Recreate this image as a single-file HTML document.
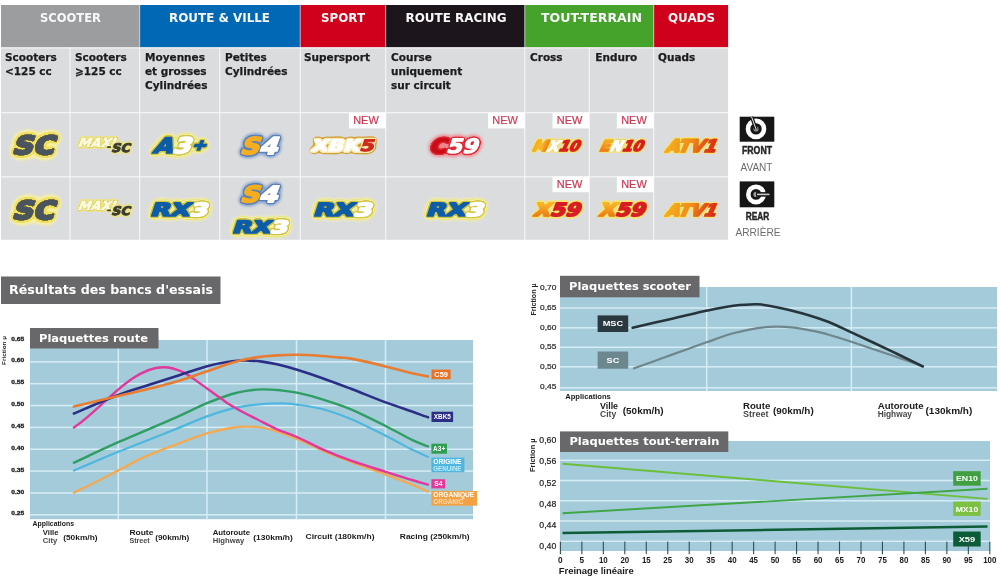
<!DOCTYPE html>
<html lang="fr"><head><meta charset="utf-8"><title>Plaquettes</title>
<style>
html,body{margin:0;padding:0;background:#fff;}
body{width:1000px;height:577px;overflow:hidden;}
svg{display:block;}
</style></head><body>
<svg width="1000" height="577" viewBox="0 0 1000 577">
<rect width="1000" height="577" fill="#fff"/>
<filter id="gb" x="0" y="0" width="100%" height="100%" filterUnits="objectBoundingBox"><feGaussianBlur stdDeviation="0.65"/></filter>
<g filter="url(#gb)">
<rect width="1000" height="577" fill="#fff"/>
<rect x="1" y="5" width="138.7" height="42.6" fill="#9c9d9f" />
<rect x="139.7" y="5" width="160.5" height="42.6" fill="#0068b4" />
<rect x="300.2" y="5" width="85.5" height="42.6" fill="#d0021b" />
<rect x="385.7" y="5" width="139.1" height="42.6" fill="#1b181c" />
<rect x="524.8" y="5" width="128.9" height="42.6" fill="#44a22c" />
<rect x="653.7" y="5" width="74.4" height="42.6" fill="#d0021b" />
<rect x="1" y="47.5" width="727.1" height="192.3" fill="#dbdcde" />
<rect x="69.45" y="47.5" width="1.1" height="192.3" fill="#f7f7f9" />
<rect x="139.15" y="47.5" width="1.1" height="192.3" fill="#f7f7f9" />
<rect x="219.25" y="47.5" width="1.1" height="192.3" fill="#f7f7f9" />
<rect x="299.65" y="47.5" width="1.1" height="192.3" fill="#f7f7f9" />
<rect x="385.15" y="47.5" width="1.1" height="192.3" fill="#f7f7f9" />
<rect x="524.25" y="47.5" width="1.1" height="192.3" fill="#f7f7f9" />
<rect x="588.75" y="47.5" width="1.1" height="192.3" fill="#f7f7f9" />
<rect x="653.15" y="47.5" width="1.1" height="192.3" fill="#f7f7f9" />
<rect x="139.2" y="5" width="1" height="42.5" fill="#ffffff" opacity="0.55"/>
<rect x="299.7" y="5" width="1" height="42.5" fill="#ffffff" opacity="0.55"/>
<rect x="385.2" y="5" width="1" height="42.5" fill="#ffffff" opacity="0.55"/>
<rect x="524.3" y="5" width="1" height="42.5" fill="#ffffff" opacity="0.55"/>
<rect x="653.2" y="5" width="1" height="42.5" fill="#ffffff" opacity="0.55"/>
<rect x="1" y="112.15" width="727.1" height="1.1" fill="#f7f7f9" />
<rect x="1" y="176.35" width="727.1" height="1.1" fill="#f7f7f9" />
<rect x="1" y="47.4" width="727.1" height="1.1" fill="#f4f4f6" />
<text x="70.5" y="22.1" font-family="'DejaVu Sans', 'Liberation Sans', sans-serif" font-size="11.9" font-weight="bold" fill="#f8f8f8" text-anchor="middle" textLength="61" lengthAdjust="spacingAndGlyphs" >SCOOTER</text>
<text x="219.5" y="22.1" font-family="'DejaVu Sans', 'Liberation Sans', sans-serif" font-size="11.9" font-weight="bold" fill="#f8f8f8" text-anchor="middle" textLength="101" lengthAdjust="spacingAndGlyphs" >ROUTE &amp; VILLE</text>
<text x="343" y="22.1" font-family="'DejaVu Sans', 'Liberation Sans', sans-serif" font-size="11.9" font-weight="bold" fill="#f8f8f8" text-anchor="middle" textLength="44" lengthAdjust="spacingAndGlyphs" >SPORT</text>
<text x="456" y="22.1" font-family="'DejaVu Sans', 'Liberation Sans', sans-serif" font-size="11.9" font-weight="bold" fill="#f8f8f8" text-anchor="middle" textLength="101" lengthAdjust="spacingAndGlyphs" >ROUTE RACING</text>
<text x="591.5" y="22.1" font-family="'DejaVu Sans', 'Liberation Sans', sans-serif" font-size="11.9" font-weight="bold" fill="#f8f8f8" text-anchor="middle" textLength="101" lengthAdjust="spacingAndGlyphs" >TOUT-TERRAIN</text>
<text x="691.5" y="22.1" font-family="'DejaVu Sans', 'Liberation Sans', sans-serif" font-size="11.9" font-weight="bold" fill="#f8f8f8" text-anchor="middle" textLength="47" lengthAdjust="spacingAndGlyphs" >QUADS</text>
<text x="5" y="60.7" font-family="'DejaVu Sans', 'Liberation Sans', sans-serif" font-size="10.5" font-weight="bold" fill="#1d1d1f" text-anchor="start" stroke="#1d1d1f" stroke-width="0.25">Scooters</text>
<text x="5" y="74.7" font-family="'DejaVu Sans', 'Liberation Sans', sans-serif" font-size="10.5" font-weight="bold" fill="#1d1d1f" text-anchor="start" stroke="#1d1d1f" stroke-width="0.25">&lt;125 cc</text>
<text x="75" y="60.7" font-family="'DejaVu Sans', 'Liberation Sans', sans-serif" font-size="10.5" font-weight="bold" fill="#1d1d1f" text-anchor="start" stroke="#1d1d1f" stroke-width="0.25">Scooters</text>
<text x="75" y="74.7" font-family="'DejaVu Sans', 'Liberation Sans', sans-serif" font-size="10.5" font-weight="bold" fill="#1d1d1f" text-anchor="start" stroke="#1d1d1f" stroke-width="0.25">⩾125 cc</text>
<text x="145" y="60.7" font-family="'DejaVu Sans', 'Liberation Sans', sans-serif" font-size="10.5" font-weight="bold" fill="#1d1d1f" text-anchor="start" stroke="#1d1d1f" stroke-width="0.25">Moyennes</text>
<text x="145" y="74.7" font-family="'DejaVu Sans', 'Liberation Sans', sans-serif" font-size="10.5" font-weight="bold" fill="#1d1d1f" text-anchor="start" stroke="#1d1d1f" stroke-width="0.25">et grosses</text>
<text x="145" y="88.7" font-family="'DejaVu Sans', 'Liberation Sans', sans-serif" font-size="10.5" font-weight="bold" fill="#1d1d1f" text-anchor="start" stroke="#1d1d1f" stroke-width="0.25">Cylindrées</text>
<text x="225" y="60.7" font-family="'DejaVu Sans', 'Liberation Sans', sans-serif" font-size="10.5" font-weight="bold" fill="#1d1d1f" text-anchor="start" stroke="#1d1d1f" stroke-width="0.25">Petites</text>
<text x="225" y="74.7" font-family="'DejaVu Sans', 'Liberation Sans', sans-serif" font-size="10.5" font-weight="bold" fill="#1d1d1f" text-anchor="start" stroke="#1d1d1f" stroke-width="0.25">Cylindrées</text>
<text x="304" y="60.7" font-family="'DejaVu Sans', 'Liberation Sans', sans-serif" font-size="10.5" font-weight="bold" fill="#1d1d1f" text-anchor="start" stroke="#1d1d1f" stroke-width="0.25">Supersport</text>
<text x="391" y="60.7" font-family="'DejaVu Sans', 'Liberation Sans', sans-serif" font-size="10.5" font-weight="bold" fill="#1d1d1f" text-anchor="start" stroke="#1d1d1f" stroke-width="0.25">Course</text>
<text x="391" y="74.7" font-family="'DejaVu Sans', 'Liberation Sans', sans-serif" font-size="10.5" font-weight="bold" fill="#1d1d1f" text-anchor="start" stroke="#1d1d1f" stroke-width="0.25">uniquement</text>
<text x="391" y="88.7" font-family="'DejaVu Sans', 'Liberation Sans', sans-serif" font-size="10.5" font-weight="bold" fill="#1d1d1f" text-anchor="start" stroke="#1d1d1f" stroke-width="0.25">sur circuit</text>
<text x="530" y="60.7" font-family="'DejaVu Sans', 'Liberation Sans', sans-serif" font-size="10.5" font-weight="bold" fill="#1d1d1f" text-anchor="start" stroke="#1d1d1f" stroke-width="0.25">Cross</text>
<text x="595.3" y="60.7" font-family="'DejaVu Sans', 'Liberation Sans', sans-serif" font-size="10.5" font-weight="bold" fill="#1d1d1f" text-anchor="start" stroke="#1d1d1f" stroke-width="0.25">Enduro</text>
<text x="658" y="60.7" font-family="'DejaVu Sans', 'Liberation Sans', sans-serif" font-size="10.5" font-weight="bold" fill="#1d1d1f" text-anchor="start" stroke="#1d1d1f" stroke-width="0.25">Quads</text>
<rect x="348.9" y="112.5" width="36.8" height="15.9" fill="#fff" />
<text x="366" y="124.4" font-family="'Liberation Sans', 'DejaVu Sans', sans-serif" font-size="10.8" font-weight="normal" fill="#c93a55" text-anchor="middle" textLength="25.6" lengthAdjust="spacingAndGlyphs" stroke="#c93a55" stroke-width="0.2">NEW</text>
<rect x="488" y="112.5" width="36.8" height="15.9" fill="#fff" />
<text x="505.1" y="124.4" font-family="'Liberation Sans', 'DejaVu Sans', sans-serif" font-size="10.8" font-weight="normal" fill="#c93a55" text-anchor="middle" textLength="25.6" lengthAdjust="spacingAndGlyphs" stroke="#c93a55" stroke-width="0.2">NEW</text>
<rect x="552.5" y="112.5" width="36.8" height="15.9" fill="#fff" />
<text x="569.6" y="124.4" font-family="'Liberation Sans', 'DejaVu Sans', sans-serif" font-size="10.8" font-weight="normal" fill="#c93a55" text-anchor="middle" textLength="25.6" lengthAdjust="spacingAndGlyphs" stroke="#c93a55" stroke-width="0.2">NEW</text>
<rect x="616.9" y="112.5" width="36.8" height="15.9" fill="#fff" />
<text x="634" y="124.4" font-family="'Liberation Sans', 'DejaVu Sans', sans-serif" font-size="10.8" font-weight="normal" fill="#c93a55" text-anchor="middle" textLength="25.6" lengthAdjust="spacingAndGlyphs" stroke="#c93a55" stroke-width="0.2">NEW</text>
<rect x="552.5" y="176.4" width="36.8" height="15.8" fill="#fff" />
<text x="569.6" y="188.3" font-family="'Liberation Sans', 'DejaVu Sans', sans-serif" font-size="10.8" font-weight="normal" fill="#c93a55" text-anchor="middle" textLength="25.6" lengthAdjust="spacingAndGlyphs" stroke="#c93a55" stroke-width="0.2">NEW</text>
<rect x="616.9" y="176.4" width="36.8" height="15.8" fill="#fff" />
<text x="634" y="188.3" font-family="'Liberation Sans', 'DejaVu Sans', sans-serif" font-size="10.8" font-weight="normal" fill="#c93a55" text-anchor="middle" textLength="25.6" lengthAdjust="spacingAndGlyphs" stroke="#c93a55" stroke-width="0.2">NEW</text>
<defs><filter id="b1" x="-20%" y="-40%" width="140%" height="180%"><feGaussianBlur stdDeviation="0.9"/></filter><filter id="b2" x="-20%" y="-40%" width="140%" height="180%"><feGaussianBlur stdDeviation="1.6"/></filter><filter id="b0" x="-10%" y="-20%" width="120%" height="140%"><feGaussianBlur stdDeviation="0.45"/></filter></defs>
<linearGradient id="ga" gradientUnits="userSpaceOnUse" x1="0" y1="0" x2="50" y2="0"><stop offset="0" stop-color="#f7ad1e"/><stop offset="0.45" stop-color="#f08a1c"/><stop offset="0.8" stop-color="#e2411f"/><stop offset="1" stop-color="#d5261c"/></linearGradient>
<linearGradient id="gm" gradientUnits="userSpaceOnUse" x1="0" y1="0" x2="14" y2="0"><stop offset="0" stop-color="#f6a91c"/><stop offset="0.5" stop-color="#f7bb28"/><stop offset="1" stop-color="#ee7d1a"/></linearGradient>
<linearGradient id="gx" gradientUnits="userSpaceOnUse" x1="0" y1="-12" x2="0" y2="0"><stop offset="0" stop-color="#f8b326"/><stop offset="1" stop-color="#ec7a18"/></linearGradient>
<filter id="o1" x="-25%" y="-60%" width="150%" height="220%" color-interpolation-filters="sRGB"><feGaussianBlur in="SourceAlpha" stdDeviation="4.25" result="a0"/><feComponentTransfer in="a0" result="t0"><feFuncA type="linear" slope="12" intercept="-0.72"/></feComponentTransfer><feGaussianBlur in="t0" stdDeviation="0.9" result="u0"/><feFlood flood-color="#f7f0a0" result="f0"/><feComposite in="f0" in2="u0" operator="in" result="l0"/><feGaussianBlur in="SourceAlpha" stdDeviation="2.10" result="a1"/><feComponentTransfer in="a1" result="t1"><feFuncA type="linear" slope="12" intercept="-0.72"/></feComponentTransfer><feGaussianBlur in="t1" stdDeviation="0.45" result="u1"/><feFlood flood-color="#eedf60" result="f1"/><feComposite in="f1" in2="u1" operator="in" result="l1"/><feGaussianBlur in="SourceAlpha" stdDeviation="0.75" result="a2"/><feComponentTransfer in="a2" result="t2"><feFuncA type="linear" slope="12" intercept="-0.72"/></feComponentTransfer><feFlood flood-color="#8c8530" result="f2"/><feComposite in="f2" in2="t2" operator="in" result="l2"/><feMerge><feMergeNode in="l0"/><feMergeNode in="l1"/><feMergeNode in="l2"/><feMergeNode in="SourceGraphic"/></feMerge></filter>
<g filter="url(#o1)"><text transform="translate(11.8,154.4) skewX(-17)" font-family="'DejaVu Sans', 'Liberation Sans', sans-serif" font-weight="bold" font-size="24.97" stroke-linejoin="round" stroke-width="2.0" textLength="41.6" lengthAdjust="spacingAndGlyphs"><tspan fill="#4b545e" stroke="#4b545e">SC</tspan></text></g>
<filter id="o2" x="-25%" y="-60%" width="150%" height="220%" color-interpolation-filters="sRGB"><feGaussianBlur in="SourceAlpha" stdDeviation="1.60" result="a0"/><feComponentTransfer in="a0" result="t0"><feFuncA type="linear" slope="12" intercept="-0.72"/></feComponentTransfer><feGaussianBlur in="t0" stdDeviation="0.45" result="u0"/><feFlood flood-color="#ece27e" result="f0"/><feComposite in="f0" in2="u0" operator="in" result="l0"/><feGaussianBlur in="SourceAlpha" stdDeviation="0.70" result="a1"/><feComponentTransfer in="a1" result="t1"><feFuncA type="linear" slope="12" intercept="-0.72"/></feComponentTransfer><feGaussianBlur in="t1" stdDeviation="0.45" result="u1"/><feFlood flood-color="#cfc040" result="f1"/><feComposite in="f1" in2="u1" operator="in" result="l1"/><feMerge><feMergeNode in="l0"/><feMergeNode in="l1"/><feMergeNode in="SourceGraphic"/></feMerge></filter>
<g filter="url(#o2)"><text transform="translate(77.35,146.85) skewX(-22)" font-family="'DejaVu Sans', 'Liberation Sans', sans-serif" font-weight="bold" font-size="12.48" stroke-linejoin="round" stroke-width="0.7" textLength="37.3" lengthAdjust="spacingAndGlyphs"><tspan fill="#fbf9e2" stroke="#fbf9e2">MAXI</tspan></text></g>
<rect x="107.2" y="146.2" width="3.6" height="1.7" fill="#3b3d30" />
<filter id="o3" x="-25%" y="-60%" width="150%" height="220%" color-interpolation-filters="sRGB"><feGaussianBlur in="SourceAlpha" stdDeviation="1.50" result="a0"/><feComponentTransfer in="a0" result="t0"><feFuncA type="linear" slope="12" intercept="-0.72"/></feComponentTransfer><feGaussianBlur in="t0" stdDeviation="0.45" result="u0"/><feFlood flood-color="#ebe28c" result="f0"/><feComposite in="f0" in2="u0" operator="in" result="l0"/><feMerge><feMergeNode in="l0"/><feMergeNode in="SourceGraphic"/></feMerge></filter>
<g filter="url(#o3)"><text transform="translate(111,151.9) skewX(-17)" font-family="'DejaVu Sans', 'Liberation Sans', sans-serif" font-weight="bold" font-size="11.80" stroke-linejoin="round" stroke-width="1.0" textLength="18.6" lengthAdjust="spacingAndGlyphs"><tspan fill="#3b3d30" stroke="#3b3d30">SC</tspan></text></g>
<filter id="o4" x="-25%" y="-60%" width="150%" height="220%" color-interpolation-filters="sRGB"><feGaussianBlur in="SourceAlpha" stdDeviation="3.30" result="a0"/><feComponentTransfer in="a0" result="t0"><feFuncA type="linear" slope="12" intercept="-0.72"/></feComponentTransfer><feGaussianBlur in="t0" stdDeviation="0.9" result="u0"/><feFlood flood-color="#f4f0b0" result="f0"/><feComposite in="f0" in2="u0" operator="in" result="l0"/><feGaussianBlur in="SourceAlpha" stdDeviation="2.80" result="a1"/><feComponentTransfer in="a1" result="t1"><feFuncA type="linear" slope="12" intercept="-0.72"/></feComponentTransfer><feFlood flood-color="#e2d958" result="f1"/><feComposite in="f1" in2="t1" operator="in" result="l1"/><feGaussianBlur in="SourceAlpha" stdDeviation="2.00" result="a2"/><feComponentTransfer in="a2" result="t2"><feFuncA type="linear" slope="12" intercept="-0.72"/></feComponentTransfer><feFlood flood-color="#f3eea0" result="f2"/><feComposite in="f2" in2="t2" operator="in" result="l2"/><feGaussianBlur in="SourceAlpha" stdDeviation="0.95" result="a3"/><feComponentTransfer in="a3" result="t3"><feFuncA type="linear" slope="12" intercept="-0.72"/></feComponentTransfer><feFlood flood-color="#cfc544" result="f3"/><feComposite in="f3" in2="t3" operator="in" result="l3"/><feMerge><feMergeNode in="l0"/><feMergeNode in="l1"/><feMergeNode in="l2"/><feMergeNode in="l3"/><feMergeNode in="SourceGraphic"/></feMerge></filter>
<g filter="url(#o4)"><text transform="translate(152.35,153.35) skewX(-22)" font-family="'DejaVu Sans', 'Liberation Sans', sans-serif" font-weight="bold" font-size="21.26" stroke-linejoin="round" stroke-width="1.7" textLength="51.9" lengthAdjust="spacingAndGlyphs"><tspan fill="#0b5ca8" stroke="#0b5ca8">A</tspan><tspan fill="#ffffff" stroke="#ffffff">3</tspan><tspan fill="#0b5ca8" stroke="#0b5ca8" font-size="14.46" dy="-3.8">+</tspan></text></g>
<filter id="o5" x="-25%" y="-60%" width="150%" height="220%" color-interpolation-filters="sRGB"><feGaussianBlur in="SourceAlpha" stdDeviation="2.50" result="a0"/><feComponentTransfer in="a0" result="t0"><feFuncA type="linear" slope="12" intercept="-0.72"/></feComponentTransfer><feGaussianBlur in="t0" stdDeviation="0.9" result="u0"/><feFlood flood-color="#8aa6cf" result="f0"/><feComposite in="f0" in2="u0" operator="in" result="l0"/><feGaussianBlur in="SourceAlpha" stdDeviation="0.95" result="a1"/><feComponentTransfer in="a1" result="t1"><feFuncA type="linear" slope="12" intercept="-0.72"/></feComponentTransfer><feGaussianBlur in="t1" stdDeviation="0.45" result="u1"/><feFlood flood-color="#5c80b6" result="f1"/><feComposite in="f1" in2="u1" operator="in" result="l1"/><feMerge><feMergeNode in="l0"/><feMergeNode in="l1"/><feMergeNode in="SourceGraphic"/></feMerge></filter>
<g filter="url(#o5)"><text transform="translate(239.4,154.3) skewX(-20)" font-family="'DejaVu Sans', 'Liberation Sans', sans-serif" font-weight="bold" font-size="23.05" stroke-linejoin="round" stroke-width="1.8" textLength="37.4" lengthAdjust="spacingAndGlyphs"><tspan fill="#f5ae20" stroke="#f5ae20">S</tspan><tspan fill="#ffffff" stroke="#ffffff">4</tspan></text></g>
<filter id="o6" x="-25%" y="-60%" width="150%" height="220%" color-interpolation-filters="sRGB"><feGaussianBlur in="SourceAlpha" stdDeviation="2.30" result="a0"/><feComponentTransfer in="a0" result="t0"><feFuncA type="linear" slope="12" intercept="-0.72"/></feComponentTransfer><feGaussianBlur in="t0" stdDeviation="0.45" result="u0"/><feFlood flood-color="#d3a136" result="f0"/><feComposite in="f0" in2="u0" operator="in" result="l0"/><feGaussianBlur in="SourceAlpha" stdDeviation="1.30" result="a1"/><feComponentTransfer in="a1" result="t1"><feFuncA type="linear" slope="12" intercept="-0.72"/></feComponentTransfer><feFlood flood-color="#f8e9b0" result="f1"/><feComposite in="f1" in2="t1" operator="in" result="l1"/><feMerge><feMergeNode in="l0"/><feMergeNode in="l1"/><feMergeNode in="SourceGraphic"/></feMerge></filter>
<g filter="url(#o6)"><text transform="translate(311.05,150.75) skewX(-18)" font-family="'DejaVu Sans', 'Liberation Sans', sans-serif" font-weight="bold" font-size="15.78" stroke-linejoin="round" stroke-width="1.1" textLength="62.3" lengthAdjust="spacingAndGlyphs"><tspan fill="#ffffff" stroke="#ffffff">XBK</tspan><tspan fill="#cf2a1c" stroke="#cf2a1c">5</tspan></text></g>
<filter id="o7" x="-25%" y="-60%" width="150%" height="220%" color-interpolation-filters="sRGB"><feGaussianBlur in="SourceAlpha" stdDeviation="2.80" result="a0"/><feComponentTransfer in="a0" result="t0"><feFuncA type="linear" slope="12" intercept="-0.72"/></feComponentTransfer><feGaussianBlur in="t0" stdDeviation="1.6" result="u0"/><feFlood flood-color="#f0858c" result="f0"/><feComposite in="f0" in2="u0" operator="in" result="l0"/><feGaussianBlur in="SourceAlpha" stdDeviation="1.20" result="a1"/><feComponentTransfer in="a1" result="t1"><feFuncA type="linear" slope="12" intercept="-0.72"/></feComponentTransfer><feGaussianBlur in="t1" stdDeviation="0.45" result="u1"/><feFlood flood-color="#dd2a34" result="f1"/><feComposite in="f1" in2="u1" operator="in" result="l1"/><feMerge><feMergeNode in="l0"/><feMergeNode in="l1"/><feMergeNode in="SourceGraphic"/></feMerge></filter>
<g filter="url(#o7)"><text transform="translate(429.05,153.25) skewX(-18)" font-family="'DejaVu Sans', 'Liberation Sans', sans-serif" font-weight="bold" font-size="19.89" stroke-linejoin="round" stroke-width="1.1" textLength="48.3" lengthAdjust="spacingAndGlyphs"><tspan fill="#c80a18" stroke="#c80a18">C</tspan><tspan fill="#ffffff" stroke="#ffffff">59</tspan></text></g>
<filter id="o8" x="-25%" y="-60%" width="150%" height="220%" color-interpolation-filters="sRGB"><feGaussianBlur in="SourceAlpha" stdDeviation="1.00" result="a0"/><feComponentTransfer in="a0" result="t0"><feFuncA type="linear" slope="12" intercept="-0.72"/></feComponentTransfer><feGaussianBlur in="t0" stdDeviation="0.45" result="u0"/><feFlood flood-color="#f6e27a" result="f0"/><feComposite in="f0" in2="u0" operator="in" result="l0"/><feGaussianBlur in="SourceAlpha" stdDeviation="0.45" result="a1"/><feComponentTransfer in="a1" result="t1"><feFuncA type="linear" slope="12" intercept="-0.72"/></feComponentTransfer><feFlood flood-color="#e6c43a" result="f1"/><feComposite in="f1" in2="t1" operator="in" result="l1"/><feMerge><feMergeNode in="l0"/><feMergeNode in="l1"/><feMergeNode in="SourceGraphic"/></feMerge></filter>
<g filter="url(#o8)"><text transform="translate(531.45,151.35) skewX(-25)" font-family="'DejaVu Sans', 'Liberation Sans', sans-serif" font-weight="bold" font-size="14.54" stroke-linejoin="round" stroke-width="1.3" textLength="46.9" lengthAdjust="spacingAndGlyphs"><tspan fill="url(#gm)" stroke="url(#gm)">M</tspan><tspan fill="#ffffff" stroke="#ffffff">X</tspan><tspan fill="#d81f26" stroke="#d81f26">10</tspan></text></g>
<g filter="url(#o8)"><text transform="translate(598.65,151.35) skewX(-25)" font-family="'DejaVu Sans', 'Liberation Sans', sans-serif" font-weight="bold" font-size="14.54" stroke-linejoin="round" stroke-width="1.3" textLength="43.2" lengthAdjust="spacingAndGlyphs"><tspan fill="url(#gx)" stroke="url(#gx)">E</tspan><tspan fill="#ffffff" stroke="#ffffff">N</tspan><tspan fill="#d81f26" stroke="#d81f26">10</tspan></text></g>
<g filter="url(#o8)"><text transform="translate(664.85,151.75) skewX(-24)" font-family="'DejaVu Sans', 'Liberation Sans', sans-serif" font-weight="bold" font-size="16.87" stroke-linejoin="round" stroke-width="1.7" textLength="50.1" lengthAdjust="spacingAndGlyphs"><tspan fill="url(#ga)" stroke="url(#ga)">ATV1</tspan></text></g>
<g filter="url(#o1)"><text transform="translate(11.8,218.8) skewX(-17)" font-family="'DejaVu Sans', 'Liberation Sans', sans-serif" font-weight="bold" font-size="24.97" stroke-linejoin="round" stroke-width="2.0" textLength="41.6" lengthAdjust="spacingAndGlyphs"><tspan fill="#4b545e" stroke="#4b545e">SC</tspan></text></g>
<g filter="url(#o2)"><text transform="translate(77.35,210.15) skewX(-22)" font-family="'DejaVu Sans', 'Liberation Sans', sans-serif" font-weight="bold" font-size="12.48" stroke-linejoin="round" stroke-width="0.7" textLength="37.3" lengthAdjust="spacingAndGlyphs"><tspan fill="#fbf9e2" stroke="#fbf9e2">MAXI</tspan></text></g>
<rect x="107.2" y="209.5" width="3.6" height="1.7" fill="#3b3d30" />
<g filter="url(#o3)"><text transform="translate(111,215.2) skewX(-17)" font-family="'DejaVu Sans', 'Liberation Sans', sans-serif" font-weight="bold" font-size="11.80" stroke-linejoin="round" stroke-width="1.0" textLength="18.6" lengthAdjust="spacingAndGlyphs"><tspan fill="#3b3d30" stroke="#3b3d30">SC</tspan></text></g>
<g filter="url(#o4)"><text transform="translate(149.85,215.95) skewX(-18)" font-family="'DejaVu Sans', 'Liberation Sans', sans-serif" font-weight="bold" font-size="17.97" stroke-linejoin="round" stroke-width="1.7" textLength="57.3" lengthAdjust="spacingAndGlyphs"><tspan fill="#0b5ca8" stroke="#0b5ca8">RX</tspan><tspan fill="#ffffff" stroke="#ffffff">3</tspan></text></g>
<g filter="url(#o5)"><text transform="translate(239.4,201.7) skewX(-20)" font-family="'DejaVu Sans', 'Liberation Sans', sans-serif" font-weight="bold" font-size="22.22" stroke-linejoin="round" stroke-width="1.8" textLength="37.6" lengthAdjust="spacingAndGlyphs"><tspan fill="#f5ae20" stroke="#f5ae20">S</tspan><tspan fill="#ffffff" stroke="#ffffff">4</tspan></text></g>
<g filter="url(#o4)"><text transform="translate(231.65,232.95) skewX(-18)" font-family="'DejaVu Sans', 'Liberation Sans', sans-serif" font-weight="bold" font-size="17.15" stroke-linejoin="round" stroke-width="1.7" textLength="55.4" lengthAdjust="spacingAndGlyphs"><tspan fill="#0b5ca8" stroke="#0b5ca8">RX</tspan><tspan fill="#ffffff" stroke="#ffffff">3</tspan></text></g>
<g filter="url(#o4)"><text transform="translate(312.65,215.75) skewX(-18)" font-family="'DejaVu Sans', 'Liberation Sans', sans-serif" font-weight="bold" font-size="17.97" stroke-linejoin="round" stroke-width="1.7" textLength="58.7" lengthAdjust="spacingAndGlyphs"><tspan fill="#0b5ca8" stroke="#0b5ca8">RX</tspan><tspan fill="#ffffff" stroke="#ffffff">3</tspan></text></g>
<g filter="url(#o4)"><text transform="translate(425.45,215.75) skewX(-18)" font-family="'DejaVu Sans', 'Liberation Sans', sans-serif" font-weight="bold" font-size="17.97" stroke-linejoin="round" stroke-width="1.7" textLength="57.4" lengthAdjust="spacingAndGlyphs"><tspan fill="#0b5ca8" stroke="#0b5ca8">RX</tspan><tspan fill="#ffffff" stroke="#ffffff">3</tspan></text></g>
<filter id="o9" x="-25%" y="-60%" width="150%" height="220%" color-interpolation-filters="sRGB"><feGaussianBlur in="SourceAlpha" stdDeviation="1.50" result="a0"/><feComponentTransfer in="a0" result="t0"><feFuncA type="linear" slope="12" intercept="-0.72"/></feComponentTransfer><feGaussianBlur in="t0" stdDeviation="0.45" result="u0"/><feFlood flood-color="#f6e27a" result="f0"/><feComposite in="f0" in2="u0" operator="in" result="l0"/><feGaussianBlur in="SourceAlpha" stdDeviation="0.65" result="a1"/><feComponentTransfer in="a1" result="t1"><feFuncA type="linear" slope="12" intercept="-0.72"/></feComponentTransfer><feFlood flood-color="#e6c43a" result="f1"/><feComposite in="f1" in2="t1" operator="in" result="l1"/><feMerge><feMergeNode in="l0"/><feMergeNode in="l1"/><feMergeNode in="SourceGraphic"/></feMerge></filter>
<g filter="url(#o9)"><text transform="translate(532.8,216.2) skewX(-20)" font-family="'DejaVu Sans', 'Liberation Sans', sans-serif" font-weight="bold" font-size="18.11" stroke-linejoin="round" stroke-width="1.6" textLength="46.8" lengthAdjust="spacingAndGlyphs"><tspan fill="url(#gx)" stroke="url(#gx)">X</tspan><tspan fill="#d81f26" stroke="#d81f26">59</tspan></text></g>
<g filter="url(#o9)"><text transform="translate(598.3,216.2) skewX(-20)" font-family="'DejaVu Sans', 'Liberation Sans', sans-serif" font-weight="bold" font-size="18.11" stroke-linejoin="round" stroke-width="1.6" textLength="46.0" lengthAdjust="spacingAndGlyphs"><tspan fill="url(#gx)" stroke="url(#gx)">X</tspan><tspan fill="#d81f26" stroke="#d81f26">59</tspan></text></g>
<g filter="url(#o8)"><text transform="translate(664.85,215.55) skewX(-24)" font-family="'DejaVu Sans', 'Liberation Sans', sans-serif" font-weight="bold" font-size="16.60" stroke-linejoin="round" stroke-width="1.7" textLength="50.2" lengthAdjust="spacingAndGlyphs"><tspan fill="url(#ga)" stroke="url(#ga)">ATV1</tspan></text></g>
<rect x="739.7" y="116.7" width="34.6" height="25" fill="#161616" />
<circle cx="756" cy="128.9" r="8" fill="none" stroke="#fff" stroke-width="4.6"/>
<circle cx="756" cy="128.9" r="2.6" fill="#8a8a8a"/>
<path d="M756 129 L751.6 116.9" stroke="#161616" stroke-width="3.4" fill="none"/>
<path d="M756 129 L751.6 116.9" stroke="#e8e8e8" stroke-width="1" fill="none"/>
<text x="757" y="154.4" font-family="'Liberation Sans', 'DejaVu Sans', sans-serif" font-size="11.8" font-weight="bold" fill="#262626" text-anchor="middle" textLength="30" lengthAdjust="spacingAndGlyphs" stroke="#262626" stroke-width="0.5">FRONT</text>
<text x="756.5" y="170.6" font-family="'Liberation Sans', 'DejaVu Sans', sans-serif" font-size="10.2" font-weight="normal" fill="#6c6c6c" text-anchor="middle" textLength="32" lengthAdjust="spacingAndGlyphs" >AVANT</text>
<rect x="739.7" y="181.4" width="34.6" height="25.9" fill="#161616" />
<circle cx="756" cy="194.4" r="7.7" fill="none" stroke="#fff" stroke-width="4.6"/>
<circle cx="756" cy="194.4" r="2.6" fill="#9a9a9a"/>
<path d="M756 194.4 H770" stroke="#161616" stroke-width="4.6" fill="none"/>
<path d="M757 194.4 H769.5" stroke="#c8c8c8" stroke-width="1.6" fill="none"/>
<text x="757.5" y="219.8" font-family="'Liberation Sans', 'DejaVu Sans', sans-serif" font-size="11.8" font-weight="bold" fill="#262626" text-anchor="middle" textLength="23.5" lengthAdjust="spacingAndGlyphs" stroke="#262626" stroke-width="0.5">REAR</text>
<text x="758" y="235.7" font-family="'Liberation Sans', 'DejaVu Sans', sans-serif" font-size="10.2" font-weight="normal" fill="#6c6c6c" text-anchor="middle" textLength="45" lengthAdjust="spacingAndGlyphs" >ARRIÈRE</text>
<rect x="1" y="276.5" width="219.5" height="27.5" fill="#68686a" />
<text x="9" y="294" font-family="'DejaVu Sans', 'Liberation Sans', sans-serif" font-size="13" font-weight="bold" fill="#fff" text-anchor="start" textLength="204" lengthAdjust="spacingAndGlyphs" >Résultats des bancs d'essais</text>
<rect x="30" y="340" width="443" height="179.2" fill="#a4cbda" />
<rect x="30" y="361.1" width="443" height="1.5" fill="#d6edf5" />
<rect x="30" y="382.95" width="443" height="1.5" fill="#d6edf5" />
<rect x="30" y="404.8" width="443" height="1.5" fill="#d6edf5" />
<rect x="30" y="426.65" width="443" height="1.5" fill="#d6edf5" />
<rect x="30" y="448.5" width="443" height="1.5" fill="#d6edf5" />
<rect x="30" y="470.35" width="443" height="1.5" fill="#d6edf5" />
<rect x="30" y="492.2" width="443" height="1.5" fill="#d6edf5" />
<rect x="30" y="514.05" width="443" height="1.5" fill="#d6edf5" />
<rect x="117.55" y="340" width="1.5" height="179.2" fill="#d6edf5" />
<rect x="206.25" y="340" width="1.5" height="179.2" fill="#d6edf5" />
<rect x="295.75" y="340" width="1.5" height="179.2" fill="#d6edf5" />
<rect x="384.75" y="340" width="1.5" height="179.2" fill="#d6edf5" />
<rect x="30" y="328" width="128.5" height="20.5" fill="#68686a" />
<text x="39" y="341.5" font-family="'DejaVu Sans', 'Liberation Sans', sans-serif" font-size="11.2" font-weight="bold" fill="#fff" text-anchor="start" textLength="109" lengthAdjust="spacingAndGlyphs" >Plaquettes route</text>
<text x="11.2" y="340.6" font-family="'Liberation Sans', 'DejaVu Sans', sans-serif" font-size="6" font-weight="bold" fill="#1c1c1c" text-anchor="start" textLength="13" lengthAdjust="spacingAndGlyphs" stroke="#1c1c1c" stroke-width="0.3">0.65</text>
<text x="11.2" y="362.45" font-family="'Liberation Sans', 'DejaVu Sans', sans-serif" font-size="6" font-weight="bold" fill="#1c1c1c" text-anchor="start" textLength="13" lengthAdjust="spacingAndGlyphs" stroke="#1c1c1c" stroke-width="0.3">0.60</text>
<text x="11.2" y="384.3" font-family="'Liberation Sans', 'DejaVu Sans', sans-serif" font-size="6" font-weight="bold" fill="#1c1c1c" text-anchor="start" textLength="13" lengthAdjust="spacingAndGlyphs" stroke="#1c1c1c" stroke-width="0.3">0.55</text>
<text x="11.2" y="406.15" font-family="'Liberation Sans', 'DejaVu Sans', sans-serif" font-size="6" font-weight="bold" fill="#1c1c1c" text-anchor="start" textLength="13" lengthAdjust="spacingAndGlyphs" stroke="#1c1c1c" stroke-width="0.3">0.50</text>
<text x="11.2" y="428" font-family="'Liberation Sans', 'DejaVu Sans', sans-serif" font-size="6" font-weight="bold" fill="#1c1c1c" text-anchor="start" textLength="13" lengthAdjust="spacingAndGlyphs" stroke="#1c1c1c" stroke-width="0.3">0.45</text>
<text x="11.2" y="449.85" font-family="'Liberation Sans', 'DejaVu Sans', sans-serif" font-size="6" font-weight="bold" fill="#1c1c1c" text-anchor="start" textLength="13" lengthAdjust="spacingAndGlyphs" stroke="#1c1c1c" stroke-width="0.3">0.40</text>
<text x="11.2" y="471.7" font-family="'Liberation Sans', 'DejaVu Sans', sans-serif" font-size="6" font-weight="bold" fill="#1c1c1c" text-anchor="start" textLength="13" lengthAdjust="spacingAndGlyphs" stroke="#1c1c1c" stroke-width="0.3">0.35</text>
<text x="11.2" y="493.55" font-family="'Liberation Sans', 'DejaVu Sans', sans-serif" font-size="6" font-weight="bold" fill="#1c1c1c" text-anchor="start" textLength="13" lengthAdjust="spacingAndGlyphs" stroke="#1c1c1c" stroke-width="0.3">0.30</text>
<text x="11.2" y="515.4" font-family="'Liberation Sans', 'DejaVu Sans', sans-serif" font-size="6" font-weight="bold" fill="#1c1c1c" text-anchor="start" textLength="13" lengthAdjust="spacingAndGlyphs" stroke="#1c1c1c" stroke-width="0.3">0.25</text>
<text transform="translate(6.3,365) rotate(-90)" font-family="'Liberation Sans', 'DejaVu Sans', sans-serif" font-size="6.2" font-weight="bold" fill="#222" textLength="29" lengthAdjust="spacingAndGlyphs">Friction µ</text>
<path d="M73.9 492.6 C77.6 490.8 88.6 485.7 96.0 482.0 C103.4 478.3 110.4 474.5 118.3 470.4 C126.2 466.3 134.4 461.6 143.2 457.6 C152.0 453.6 160.4 450.4 171.0 446.4 C181.6 442.4 196.8 436.5 207.0 433.4 C217.2 430.3 225.1 428.9 232.0 427.8 C238.9 426.7 243.6 426.6 248.6 426.6 C253.6 426.6 257.4 426.9 262.0 427.6 C266.6 428.3 270.2 429.1 276.0 431.0 C281.8 432.9 289.0 435.5 296.9 438.8 C304.8 442.1 314.2 447.0 323.2 450.8 C332.2 454.6 340.6 457.8 351.0 461.8 C361.4 465.8 375.4 470.8 385.6 474.6 C395.8 478.4 404.9 481.8 412.0 484.6 C419.1 487.4 425.3 490.4 428.0 491.6" fill="none" stroke="#f2aa55" stroke-width="2.4" stroke-linecap="round" stroke-linejoin="round"/>
<path d="M73.9 470.6 C81.3 467.5 102.1 458.4 118.3 451.8 C134.5 445.2 156.2 436.9 171.0 431.0 C185.8 425.1 196.8 420.1 207.0 416.4 C217.2 412.7 223.8 410.6 232.0 408.6 C240.2 406.6 247.7 405.5 256.0 404.6 C264.3 403.7 274.8 403.4 281.6 403.4 C288.4 403.4 290.0 403.6 296.9 404.6 C303.8 405.6 314.2 406.9 323.2 409.3 C332.2 411.7 340.6 414.6 351.0 419.0 C361.4 423.4 375.4 430.6 385.6 435.7 C395.8 440.8 404.9 446.1 412.0 449.6 C419.1 453.1 425.3 455.6 428.0 456.8" fill="none" stroke="#4fb7df" stroke-width="2.2" stroke-linecap="round" stroke-linejoin="round"/>
<path d="M73.9 462.7 C81.3 459.3 102.1 449.4 118.3 442.2 C134.5 435.0 156.2 426.1 171.0 419.6 C185.8 413.1 196.8 407.5 207.0 403.2 C217.2 398.9 225.2 396.1 232.0 394.0 C238.8 391.9 243.0 391.4 248.0 390.6 C253.0 389.8 256.7 389.4 262.0 389.4 C267.3 389.3 274.2 389.8 280.0 390.3 C285.8 390.9 289.7 391.1 296.9 392.7 C304.1 394.2 314.2 396.8 323.2 399.6 C332.2 402.4 340.6 404.9 351.0 409.3 C361.4 413.7 375.4 420.9 385.6 426.0 C395.8 431.1 404.9 436.5 412.0 439.9 C419.1 443.3 425.3 445.3 428.0 446.4" fill="none" stroke="#2f9e62" stroke-width="2.4" stroke-linecap="round" stroke-linejoin="round"/>
<path d="M73.9 427.4 C100 411 131 367.2 163 367.2 C170.2 367.1 175.7 368.6 183.0 372.2 C190.3 375.8 199.8 383.5 207.0 388.5 C214.2 393.5 220.8 398.7 226.4 402.4 C232.0 406.1 235.3 407.9 240.3 410.7 C245.3 413.5 250.7 416.0 256.6 419.0 C262.6 422.0 269.3 425.8 276.0 428.8 C282.7 431.8 289.0 433.5 296.9 437.0 C304.8 440.5 314.2 445.7 323.2 449.6 C332.2 453.6 340.6 457.0 351.0 460.7 C361.4 464.4 375.4 468.6 385.6 471.8 C395.8 475.0 404.9 477.9 412.0 480.0 C419.1 482.1 425.3 483.8 428.0 484.6" fill="none" stroke="#e2379b" stroke-width="2.4" stroke-linecap="round" stroke-linejoin="round"/>
<path d="M73.9 413.5 C81.3 410.4 105.6 399.8 118.3 395.0 C131.0 390.2 139.7 387.9 150.0 384.6 C160.3 381.3 170.5 378.1 180.0 375.0 C189.5 371.9 198.3 368.5 207.0 366.2 C215.7 363.9 225.2 362.1 232.0 361.2 C238.8 360.3 243.0 360.5 248.0 360.6 C253.0 360.7 257.2 361.0 262.0 361.6 C266.8 362.2 271.0 362.9 277.0 364.3 C283.0 365.7 290.2 367.6 297.9 370.0 C305.6 372.4 314.3 375.3 323.2 378.4 C332.1 381.5 340.6 384.8 351.0 388.8 C361.4 392.8 375.4 398.6 385.6 402.4 C395.8 406.2 404.9 409.1 412.0 411.6 C419.1 414.1 425.3 416.4 428.0 417.3" fill="none" stroke="#2c2f86" stroke-width="2.6" stroke-linecap="round" stroke-linejoin="round"/>
<path d="M73.9 406.6 C81.3 404.8 105.6 399.0 118.3 396.0 C131.0 393.0 139.7 391.1 150.0 388.5 C160.3 385.9 170.5 383.5 180.0 380.6 C189.5 377.7 197.8 374.3 207.0 371.2 C216.2 368.1 227.3 364.1 235.5 361.8 C243.7 359.5 249.4 358.5 256.3 357.4 C263.2 356.3 270.1 355.8 277.0 355.4 C283.9 354.9 291.0 354.6 297.9 354.7 C304.8 354.8 311.6 355.2 318.6 355.7 C325.6 356.2 334.6 357.1 340.0 357.6 C345.4 358.1 343.4 357.1 351.0 358.6 C358.6 360.1 375.4 363.9 385.6 366.4 C395.8 368.8 404.9 371.6 412.0 373.3 C419.1 375.0 425.3 375.9 428.0 376.4" fill="none" stroke="#e87b33" stroke-width="2.6" stroke-linecap="round" stroke-linejoin="round"/>
<rect x="431.5" y="369.6" width="19.2" height="9.6" fill="#e87226" />
<text x="441.1" y="376.776" font-family="'Liberation Sans', 'DejaVu Sans', sans-serif" font-size="6.6" font-weight="bold" fill="#fff" text-anchor="middle" textLength="13.6" lengthAdjust="spacingAndGlyphs" >C59</text>
<rect x="431.5" y="411.7" width="21.6" height="10.3" fill="#2c2f86" />
<text x="442.3" y="419.226" font-family="'Liberation Sans', 'DejaVu Sans', sans-serif" font-size="6.6" font-weight="bold" fill="#fff" text-anchor="middle" textLength="17" lengthAdjust="spacingAndGlyphs" >XBK5</text>
<rect x="431.4" y="443.7" width="15.6" height="10" fill="#2f9e52" />
<text x="439.2" y="451.076" font-family="'Liberation Sans', 'DejaVu Sans', sans-serif" font-size="6.6" font-weight="bold" fill="#fff" text-anchor="middle" textLength="12.2" lengthAdjust="spacingAndGlyphs" >A3+</text>
<rect x="431.4" y="457.6" width="33" height="14.6" fill="#4fb7df" />
<text x="433.3" y="463.826" font-family="'Liberation Sans', 'DejaVu Sans', sans-serif" font-size="6.6" font-weight="bold" fill="#fff" text-anchor="start" textLength="28.2" lengthAdjust="spacingAndGlyphs" >ORIGINE</text>
<text x="433.3" y="470.726" font-family="'Liberation Sans', 'DejaVu Sans', sans-serif" font-size="6.6" font-weight="bold" fill="#bfe8f7" text-anchor="start" textLength="28.2" lengthAdjust="spacingAndGlyphs" >GENUINE</text>
<rect x="431.4" y="479.2" width="13.8" height="9.2" fill="#e2379b" />
<text x="438.3" y="486.176" font-family="'Liberation Sans', 'DejaVu Sans', sans-serif" font-size="6.6" font-weight="bold" fill="#fff" text-anchor="middle" textLength="8.2" lengthAdjust="spacingAndGlyphs" >S4</text>
<rect x="431.4" y="490.9" width="45.7" height="14.8" fill="#f2a144" />
<text x="433.3" y="497.226" font-family="'Liberation Sans', 'DejaVu Sans', sans-serif" font-size="6.6" font-weight="bold" fill="#fff" text-anchor="start" textLength="41" lengthAdjust="spacingAndGlyphs" >ORGANIQUE</text>
<text x="433.3" y="504.126" font-family="'Liberation Sans', 'DejaVu Sans', sans-serif" font-size="6.6" font-weight="bold" fill="#fcdcae" text-anchor="start" textLength="30" lengthAdjust="spacingAndGlyphs" >ORGANIC</text>
<text x="32.6" y="525.6" font-family="'Liberation Sans', 'DejaVu Sans', sans-serif" font-size="6.6" font-weight="bold" fill="#1a1a1a" text-anchor="start" textLength="41.5" lengthAdjust="spacingAndGlyphs" >Applications</text>
<text x="42.8" y="535.2" font-family="'Liberation Sans', 'DejaVu Sans', sans-serif" font-size="7.4" font-weight="bold" fill="#1a1a1a" text-anchor="start" textLength="15.6" lengthAdjust="spacingAndGlyphs" >Ville</text>
<text x="42.8" y="542.7" font-family="'Liberation Sans', 'DejaVu Sans', sans-serif" font-size="7.4" font-weight="bold" fill="#484848" text-anchor="start" textLength="14.4" lengthAdjust="spacingAndGlyphs" >City</text>
<text x="63.2" y="539.9" font-family="'Liberation Sans', 'DejaVu Sans', sans-serif" font-size="7.7" font-weight="bold" fill="#1a1a1a" text-anchor="start" textLength="34.4" lengthAdjust="spacingAndGlyphs" >(50km/h)</text>
<text x="129.4" y="535.2" font-family="'Liberation Sans', 'DejaVu Sans', sans-serif" font-size="7.4" font-weight="bold" fill="#1a1a1a" text-anchor="start" textLength="24" lengthAdjust="spacingAndGlyphs" >Route</text>
<text x="129.4" y="542.7" font-family="'Liberation Sans', 'DejaVu Sans', sans-serif" font-size="7.4" font-weight="bold" fill="#484848" text-anchor="start" textLength="20.3" lengthAdjust="spacingAndGlyphs" >Street</text>
<text x="155.2" y="539.9" font-family="'Liberation Sans', 'DejaVu Sans', sans-serif" font-size="7.7" font-weight="bold" fill="#1a1a1a" text-anchor="start" textLength="34.2" lengthAdjust="spacingAndGlyphs" >(90km/h)</text>
<text x="212.7" y="535.2" font-family="'Liberation Sans', 'DejaVu Sans', sans-serif" font-size="7.4" font-weight="bold" fill="#1a1a1a" text-anchor="start" textLength="37.3" lengthAdjust="spacingAndGlyphs" >Autoroute</text>
<text x="212.7" y="542.7" font-family="'Liberation Sans', 'DejaVu Sans', sans-serif" font-size="7.4" font-weight="bold" fill="#484848" text-anchor="start" textLength="31.5" lengthAdjust="spacingAndGlyphs" >Highway</text>
<text x="253.2" y="539.9" font-family="'Liberation Sans', 'DejaVu Sans', sans-serif" font-size="7.7" font-weight="bold" fill="#1a1a1a" text-anchor="start" textLength="39.6" lengthAdjust="spacingAndGlyphs" >(130km/h)</text>
<text x="305.5" y="539.4" font-family="'Liberation Sans', 'DejaVu Sans', sans-serif" font-size="7.7" font-weight="bold" fill="#1a1a1a" text-anchor="start" textLength="69" lengthAdjust="spacingAndGlyphs" >Circuit (180km/h)</text>
<text x="399.8" y="539.4" font-family="'Liberation Sans', 'DejaVu Sans', sans-serif" font-size="7.7" font-weight="bold" fill="#1a1a1a" text-anchor="start" textLength="69.8" lengthAdjust="spacingAndGlyphs" >Racing (250km/h)</text>
<rect x="560" y="287" width="437" height="104" fill="#a4cbda" />
<rect x="560" y="307.25" width="437" height="1.5" fill="#d6edf5" />
<rect x="560" y="327.05" width="437" height="1.5" fill="#d6edf5" />
<rect x="560" y="346.55" width="437" height="1.5" fill="#d6edf5" />
<rect x="560" y="366.05" width="437" height="1.5" fill="#d6edf5" />
<rect x="560" y="387.05" width="437" height="1.5" fill="#d6edf5" />
<rect x="705.95" y="287" width="1.5" height="104" fill="#d6edf5" />
<rect x="850.65" y="287" width="1.5" height="104" fill="#d6edf5" />
<rect x="560" y="275.8" width="139.5" height="21.5" fill="#68686a" />
<text x="569" y="289.8" font-family="'DejaVu Sans', 'Liberation Sans', sans-serif" font-size="11.2" font-weight="bold" fill="#fff" text-anchor="start" textLength="122" lengthAdjust="spacingAndGlyphs" >Plaquettes scooter</text>
<text x="540" y="289.8" font-family="'Liberation Sans', 'DejaVu Sans', sans-serif" font-size="8" font-weight="normal" fill="#222" text-anchor="start" textLength="16.3" lengthAdjust="spacingAndGlyphs" stroke="#222" stroke-width="0.2">0,70</text>
<text x="540" y="309.9" font-family="'Liberation Sans', 'DejaVu Sans', sans-serif" font-size="8" font-weight="normal" fill="#222" text-anchor="start" textLength="16.3" lengthAdjust="spacingAndGlyphs" stroke="#222" stroke-width="0.2">0,65</text>
<text x="540" y="329.8" font-family="'Liberation Sans', 'DejaVu Sans', sans-serif" font-size="8" font-weight="normal" fill="#222" text-anchor="start" textLength="16.3" lengthAdjust="spacingAndGlyphs" stroke="#222" stroke-width="0.2">0,60</text>
<text x="540" y="349.4" font-family="'Liberation Sans', 'DejaVu Sans', sans-serif" font-size="8" font-weight="normal" fill="#222" text-anchor="start" textLength="16.3" lengthAdjust="spacingAndGlyphs" stroke="#222" stroke-width="0.2">0,55</text>
<text x="540" y="369" font-family="'Liberation Sans', 'DejaVu Sans', sans-serif" font-size="8" font-weight="normal" fill="#222" text-anchor="start" textLength="16.3" lengthAdjust="spacingAndGlyphs" stroke="#222" stroke-width="0.2">0,50</text>
<text x="540" y="389.3" font-family="'Liberation Sans', 'DejaVu Sans', sans-serif" font-size="8" font-weight="normal" fill="#222" text-anchor="start" textLength="16.3" lengthAdjust="spacingAndGlyphs" stroke="#222" stroke-width="0.2">0,45</text>
<text transform="translate(535.6,315.5) rotate(-90)" font-family="'Liberation Sans', 'DejaVu Sans', sans-serif" font-size="6.4" font-weight="bold" fill="#222" textLength="32" lengthAdjust="spacingAndGlyphs">Friction µ</text>
<path d="M634.0 368.3 C638.3 366.8 650.7 362.4 660.0 359.0 C669.3 355.6 682.1 351.0 690.0 348.2 C697.9 345.4 700.1 344.5 707.3 342.0 C714.5 339.5 724.9 335.6 733.3 333.3 C741.7 331.0 750.4 329.2 757.6 328.1 C764.8 327.0 770.6 326.7 776.7 326.6 C782.8 326.5 788.2 326.9 794.0 327.6 C799.8 328.3 805.5 329.4 811.3 330.6 C817.1 331.8 822.0 332.8 828.7 334.7 C835.4 336.6 840.7 338.3 851.4 341.8 C862.1 345.3 881.1 351.7 893.0 355.8 C904.9 359.9 917.8 364.6 922.8 366.4" fill="none" stroke="#6f868d" stroke-width="2.2" stroke-linecap="round" stroke-linejoin="round"/>
<path d="M632.6 327.7 C638.8 326.3 657.5 322.0 670.0 319.2 C682.5 316.4 696.8 312.8 707.3 310.6 C717.8 308.4 724.9 306.9 733.3 305.8 C741.7 304.8 750.4 304.1 757.6 304.3 C764.8 304.5 769.2 305.7 776.7 307.2 C784.2 308.7 794.0 310.9 802.7 313.4 C811.4 315.9 820.6 318.8 828.7 322.0 C836.8 325.2 840.7 327.4 851.4 332.4 C862.1 337.4 881.1 346.2 893.0 351.9 C904.9 357.6 917.8 364.0 922.8 366.4" fill="none" stroke="#27353b" stroke-width="2.6" stroke-linecap="round" stroke-linejoin="round"/>
<rect x="597.6" y="315.4" width="30.6" height="16.6" fill="#2b3940" />
<text x="612.9" y="326.436" font-family="'Liberation Sans', 'DejaVu Sans', sans-serif" font-size="7.6" font-weight="bold" fill="#fff" text-anchor="middle" textLength="20.5" lengthAdjust="spacingAndGlyphs" >MSC</text>
<rect x="597.6" y="351.5" width="30.6" height="17.2" fill="#6d878f" />
<text x="612.9" y="362.836" font-family="'Liberation Sans', 'DejaVu Sans', sans-serif" font-size="7.6" font-weight="bold" fill="#fff" text-anchor="middle" textLength="12.7" lengthAdjust="spacingAndGlyphs" >SC</text>
<text x="565.2" y="398.8" font-family="'Liberation Sans', 'DejaVu Sans', sans-serif" font-size="7.3" font-weight="bold" fill="#1a1a1a" text-anchor="start" textLength="45.6" lengthAdjust="spacingAndGlyphs" >Applications</text>
<text x="600" y="409.3" font-family="'Liberation Sans', 'DejaVu Sans', sans-serif" font-size="8.6" font-weight="bold" fill="#1a1a1a" text-anchor="start" textLength="18" lengthAdjust="spacingAndGlyphs" >Ville</text>
<text x="600" y="417.2" font-family="'Liberation Sans', 'DejaVu Sans', sans-serif" font-size="8.6" font-weight="bold" fill="#484848" text-anchor="start" textLength="16.2" lengthAdjust="spacingAndGlyphs" >City</text>
<text x="622.8" y="414.4" font-family="'Liberation Sans', 'DejaVu Sans', sans-serif" font-size="9.6" font-weight="bold" fill="#1a1a1a" text-anchor="start" textLength="40.8" lengthAdjust="spacingAndGlyphs" >(50km/h)</text>
<text x="743" y="409.3" font-family="'Liberation Sans', 'DejaVu Sans', sans-serif" font-size="8.6" font-weight="bold" fill="#1a1a1a" text-anchor="start" textLength="27.3" lengthAdjust="spacingAndGlyphs" >Route</text>
<text x="743" y="417.2" font-family="'Liberation Sans', 'DejaVu Sans', sans-serif" font-size="8.6" font-weight="bold" fill="#484848" text-anchor="start" textLength="25.5" lengthAdjust="spacingAndGlyphs" >Street</text>
<text x="772.9" y="414.4" font-family="'Liberation Sans', 'DejaVu Sans', sans-serif" font-size="9.6" font-weight="bold" fill="#1a1a1a" text-anchor="start" textLength="40.8" lengthAdjust="spacingAndGlyphs" >(90km/h)</text>
<text x="877.7" y="409.3" font-family="'Liberation Sans', 'DejaVu Sans', sans-serif" font-size="8.6" font-weight="bold" fill="#1a1a1a" text-anchor="start" textLength="46" lengthAdjust="spacingAndGlyphs" >Autoroute</text>
<text x="877.7" y="417.2" font-family="'Liberation Sans', 'DejaVu Sans', sans-serif" font-size="8.6" font-weight="bold" fill="#484848" text-anchor="start" textLength="34.3" lengthAdjust="spacingAndGlyphs" >Highway</text>
<text x="925.5" y="414.4" font-family="'Liberation Sans', 'DejaVu Sans', sans-serif" font-size="9.6" font-weight="bold" fill="#1a1a1a" text-anchor="start" textLength="46.8" lengthAdjust="spacingAndGlyphs" >(130km/h)</text>
<rect x="560" y="441" width="430" height="110" fill="#a4cbda" />
<rect x="560" y="459.55" width="430" height="1.5" fill="#d6edf5" />
<rect x="560" y="479.75" width="430" height="1.5" fill="#d6edf5" />
<rect x="560" y="500.05" width="430" height="1.5" fill="#d6edf5" />
<rect x="560" y="520.25" width="430" height="1.5" fill="#d6edf5" />
<rect x="560" y="540.55" width="430" height="1.5" fill="#d6edf5" />
<rect x="560" y="431.4" width="168.3" height="20.6" fill="#68686a" />
<text x="569.4" y="445" font-family="'DejaVu Sans', 'Liberation Sans', sans-serif" font-size="10.9" font-weight="bold" fill="#fff" text-anchor="start" textLength="150" lengthAdjust="spacingAndGlyphs" >Plaquettes tout-terrain</text>
<text x="539.3" y="443.3" font-family="'Liberation Sans', 'DejaVu Sans', sans-serif" font-size="8.2" font-weight="normal" fill="#222" text-anchor="start" textLength="17" lengthAdjust="spacingAndGlyphs" stroke="#222" stroke-width="0.2">0,60</text>
<text x="539.3" y="464.2" font-family="'Liberation Sans', 'DejaVu Sans', sans-serif" font-size="8.2" font-weight="normal" fill="#222" text-anchor="start" textLength="17" lengthAdjust="spacingAndGlyphs" stroke="#222" stroke-width="0.2">0,56</text>
<text x="539.3" y="485.5" font-family="'Liberation Sans', 'DejaVu Sans', sans-serif" font-size="8.2" font-weight="normal" fill="#222" text-anchor="start" textLength="17" lengthAdjust="spacingAndGlyphs" stroke="#222" stroke-width="0.2">0,52</text>
<text x="539.3" y="506.7" font-family="'Liberation Sans', 'DejaVu Sans', sans-serif" font-size="8.2" font-weight="normal" fill="#222" text-anchor="start" textLength="17" lengthAdjust="spacingAndGlyphs" stroke="#222" stroke-width="0.2">0,48</text>
<text x="539.3" y="527.6" font-family="'Liberation Sans', 'DejaVu Sans', sans-serif" font-size="8.2" font-weight="normal" fill="#222" text-anchor="start" textLength="17" lengthAdjust="spacingAndGlyphs" stroke="#222" stroke-width="0.2">0,44</text>
<text x="539.3" y="548.6" font-family="'Liberation Sans', 'DejaVu Sans', sans-serif" font-size="8.2" font-weight="normal" fill="#222" text-anchor="start" textLength="17" lengthAdjust="spacingAndGlyphs" stroke="#222" stroke-width="0.2">0,40</text>
<text transform="translate(535.2,472) rotate(-90)" font-family="'Liberation Sans', 'DejaVu Sans', sans-serif" font-size="6.6" font-weight="bold" fill="#222" textLength="33.5" lengthAdjust="spacingAndGlyphs">Friction µ</text>
<path d="M562.5 463.7 L987.5 498.9" stroke="#6cbf3c" stroke-width="1.9" fill="none"/>
<path d="M562.5 513.2 L987.5 488.8" stroke="#3fa646" stroke-width="1.9" fill="none"/>
<path d="M562.5 532.9 L987.5 526.6" stroke="#0e5c37" stroke-width="2.5" fill="none"/>
<rect x="953.2" y="471.2" width="27.5" height="14.5" fill="#3f9f3f" />
<text x="966.95" y="481.258" font-family="'Liberation Sans', 'DejaVu Sans', sans-serif" font-size="7.8" font-weight="bold" fill="#fff" text-anchor="middle" textLength="22" lengthAdjust="spacingAndGlyphs" >EN10</text>
<rect x="953.2" y="501.6" width="27.5" height="14.3" fill="#7cc142" />
<text x="966.95" y="511.558" font-family="'Liberation Sans', 'DejaVu Sans', sans-serif" font-size="7.8" font-weight="bold" fill="#fff" text-anchor="middle" textLength="22.5" lengthAdjust="spacingAndGlyphs" >MX10</text>
<rect x="953.2" y="531.5" width="27.5" height="15" fill="#0e5c37" />
<text x="966.95" y="541.808" font-family="'Liberation Sans', 'DejaVu Sans', sans-serif" font-size="7.8" font-weight="bold" fill="#fff" text-anchor="middle" textLength="16.5" lengthAdjust="spacingAndGlyphs" >X59</text>
<rect x="559.85" y="541.6" width="1.1" height="12.6" fill="#2c4f5a" />
<text x="560.4" y="562.6" font-family="'Liberation Sans', 'DejaVu Sans', sans-serif" font-size="8.3" font-weight="bold" fill="#1a1a1a" text-anchor="middle" textLength="4.6" lengthAdjust="spacingAndGlyphs" >0</text>
<rect x="581.32" y="541.6" width="1.1" height="12.6" fill="#2c4f5a" />
<text x="581.87" y="562.6" font-family="'Liberation Sans', 'DejaVu Sans', sans-serif" font-size="8.3" font-weight="bold" fill="#1a1a1a" text-anchor="middle" textLength="4.6" lengthAdjust="spacingAndGlyphs" >5</text>
<rect x="602.79" y="541.6" width="1.1" height="12.6" fill="#2c4f5a" />
<text x="603.34" y="562.6" font-family="'Liberation Sans', 'DejaVu Sans', sans-serif" font-size="8.3" font-weight="bold" fill="#1a1a1a" text-anchor="middle" textLength="8.8" lengthAdjust="spacingAndGlyphs" >10</text>
<rect x="624.26" y="541.6" width="1.1" height="12.6" fill="#2c4f5a" />
<text x="624.81" y="562.6" font-family="'Liberation Sans', 'DejaVu Sans', sans-serif" font-size="8.3" font-weight="bold" fill="#1a1a1a" text-anchor="middle" textLength="8.8" lengthAdjust="spacingAndGlyphs" >20</text>
<rect x="645.73" y="541.6" width="1.1" height="12.6" fill="#2c4f5a" />
<text x="646.28" y="562.6" font-family="'Liberation Sans', 'DejaVu Sans', sans-serif" font-size="8.3" font-weight="bold" fill="#1a1a1a" text-anchor="middle" textLength="8.8" lengthAdjust="spacingAndGlyphs" >15</text>
<rect x="667.2" y="541.6" width="1.1" height="12.6" fill="#2c4f5a" />
<text x="667.75" y="562.6" font-family="'Liberation Sans', 'DejaVu Sans', sans-serif" font-size="8.3" font-weight="bold" fill="#1a1a1a" text-anchor="middle" textLength="8.8" lengthAdjust="spacingAndGlyphs" >25</text>
<rect x="688.67" y="541.6" width="1.1" height="12.6" fill="#2c4f5a" />
<text x="689.22" y="562.6" font-family="'Liberation Sans', 'DejaVu Sans', sans-serif" font-size="8.3" font-weight="bold" fill="#1a1a1a" text-anchor="middle" textLength="8.8" lengthAdjust="spacingAndGlyphs" >30</text>
<rect x="710.14" y="541.6" width="1.1" height="12.6" fill="#2c4f5a" />
<text x="710.69" y="562.6" font-family="'Liberation Sans', 'DejaVu Sans', sans-serif" font-size="8.3" font-weight="bold" fill="#1a1a1a" text-anchor="middle" textLength="8.8" lengthAdjust="spacingAndGlyphs" >35</text>
<rect x="731.61" y="541.6" width="1.1" height="12.6" fill="#2c4f5a" />
<text x="732.16" y="562.6" font-family="'Liberation Sans', 'DejaVu Sans', sans-serif" font-size="8.3" font-weight="bold" fill="#1a1a1a" text-anchor="middle" textLength="8.8" lengthAdjust="spacingAndGlyphs" >40</text>
<rect x="753.08" y="541.6" width="1.1" height="12.6" fill="#2c4f5a" />
<text x="753.63" y="562.6" font-family="'Liberation Sans', 'DejaVu Sans', sans-serif" font-size="8.3" font-weight="bold" fill="#1a1a1a" text-anchor="middle" textLength="8.8" lengthAdjust="spacingAndGlyphs" >45</text>
<rect x="774.55" y="541.6" width="1.1" height="12.6" fill="#2c4f5a" />
<text x="775.1" y="562.6" font-family="'Liberation Sans', 'DejaVu Sans', sans-serif" font-size="8.3" font-weight="bold" fill="#1a1a1a" text-anchor="middle" textLength="8.8" lengthAdjust="spacingAndGlyphs" >50</text>
<rect x="796.02" y="541.6" width="1.1" height="12.6" fill="#2c4f5a" />
<text x="796.57" y="562.6" font-family="'Liberation Sans', 'DejaVu Sans', sans-serif" font-size="8.3" font-weight="bold" fill="#1a1a1a" text-anchor="middle" textLength="8.8" lengthAdjust="spacingAndGlyphs" >55</text>
<rect x="817.49" y="541.6" width="1.1" height="12.6" fill="#2c4f5a" />
<text x="818.04" y="562.6" font-family="'Liberation Sans', 'DejaVu Sans', sans-serif" font-size="8.3" font-weight="bold" fill="#1a1a1a" text-anchor="middle" textLength="8.8" lengthAdjust="spacingAndGlyphs" >60</text>
<rect x="838.96" y="541.6" width="1.1" height="12.6" fill="#2c4f5a" />
<text x="839.51" y="562.6" font-family="'Liberation Sans', 'DejaVu Sans', sans-serif" font-size="8.3" font-weight="bold" fill="#1a1a1a" text-anchor="middle" textLength="8.8" lengthAdjust="spacingAndGlyphs" >65</text>
<rect x="860.43" y="541.6" width="1.1" height="12.6" fill="#2c4f5a" />
<text x="860.98" y="562.6" font-family="'Liberation Sans', 'DejaVu Sans', sans-serif" font-size="8.3" font-weight="bold" fill="#1a1a1a" text-anchor="middle" textLength="8.8" lengthAdjust="spacingAndGlyphs" >70</text>
<rect x="881.9" y="541.6" width="1.1" height="12.6" fill="#2c4f5a" />
<text x="882.45" y="562.6" font-family="'Liberation Sans', 'DejaVu Sans', sans-serif" font-size="8.3" font-weight="bold" fill="#1a1a1a" text-anchor="middle" textLength="8.8" lengthAdjust="spacingAndGlyphs" >75</text>
<rect x="903.37" y="541.6" width="1.1" height="12.6" fill="#2c4f5a" />
<text x="903.92" y="562.6" font-family="'Liberation Sans', 'DejaVu Sans', sans-serif" font-size="8.3" font-weight="bold" fill="#1a1a1a" text-anchor="middle" textLength="8.8" lengthAdjust="spacingAndGlyphs" >80</text>
<rect x="924.84" y="541.6" width="1.1" height="12.6" fill="#2c4f5a" />
<text x="925.39" y="562.6" font-family="'Liberation Sans', 'DejaVu Sans', sans-serif" font-size="8.3" font-weight="bold" fill="#1a1a1a" text-anchor="middle" textLength="8.8" lengthAdjust="spacingAndGlyphs" >85</text>
<rect x="946.31" y="541.6" width="1.1" height="12.6" fill="#2c4f5a" />
<text x="946.86" y="562.6" font-family="'Liberation Sans', 'DejaVu Sans', sans-serif" font-size="8.3" font-weight="bold" fill="#1a1a1a" text-anchor="middle" textLength="8.8" lengthAdjust="spacingAndGlyphs" >90</text>
<rect x="967.78" y="541.6" width="1.1" height="12.6" fill="#2c4f5a" />
<text x="968.33" y="562.6" font-family="'Liberation Sans', 'DejaVu Sans', sans-serif" font-size="8.3" font-weight="bold" fill="#1a1a1a" text-anchor="middle" textLength="8.8" lengthAdjust="spacingAndGlyphs" >95</text>
<rect x="989.25" y="541.6" width="1.1" height="12.6" fill="#2c4f5a" />
<text x="989.8" y="562.6" font-family="'Liberation Sans', 'DejaVu Sans', sans-serif" font-size="8.3" font-weight="bold" fill="#1a1a1a" text-anchor="middle" textLength="13.2" lengthAdjust="spacingAndGlyphs" >100</text>
<text x="558.8" y="574.2" font-family="'Liberation Sans', 'DejaVu Sans', sans-serif" font-size="8.2" font-weight="bold" fill="#1a1a1a" text-anchor="start" textLength="75" lengthAdjust="spacingAndGlyphs" >Freinage linéaire</text>
</g>
</svg>
</body></html>
